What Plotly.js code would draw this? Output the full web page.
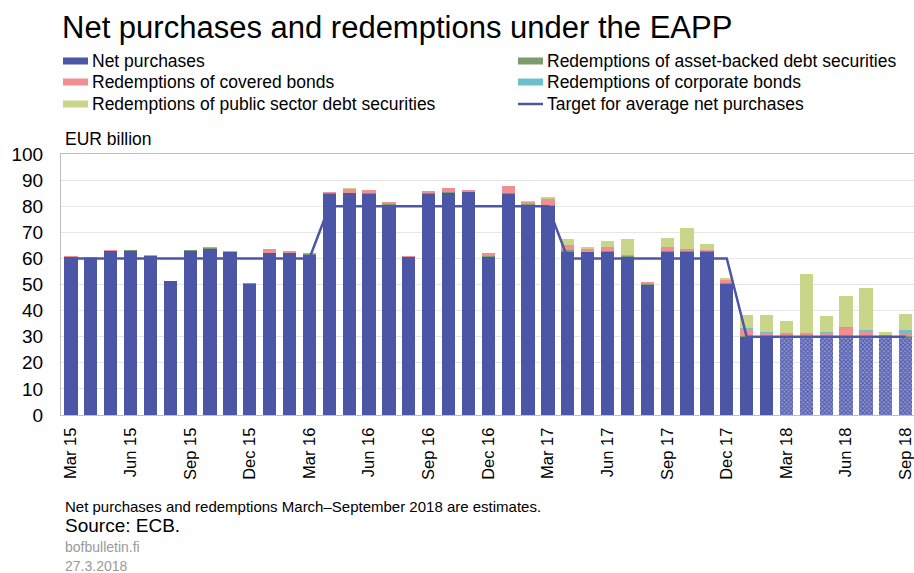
<!DOCTYPE html>
<html>
<head>
<meta charset="utf-8">
<script src="https://cdn.plot.ly/plotly-3.0.1.min.js"></script>
<style>
html,body{margin:0;padding:0;background:#fff;}
#chart{width:914px;height:573px;}
</style>
</head>
<body>
<div id="chart"></div>
<script>
const months = ["Mar 15","Apr 15","May 15","Jun 15","Jul 15","Aug 15","Sep 15","Oct 15","Nov 15","Dec 15",
  "Jan 16","Feb 16","Mar 16","Apr 16","May 16","Jun 16","Jul 16","Aug 16","Sep 16","Oct 16","Nov 16","Dec 16",
  "Jan 17","Feb 17","Mar 17","Apr 17","May 17","Jun 17","Jul 17","Aug 17","Sep 17","Oct 17","Nov 17","Dec 17",
  "Jan 18","Feb 18","Mar 18","Apr 18","May 18","Jun 18","Jul 18","Aug 18","Sep 18"];

const netPurchases = [60.6,60.1,62.7,63.0,61.0,51.2,63.0,63.6,62.4,50.2,
  61.9,61.9,61.2,84.8,84.9,84.7,80.4,60.4,84.7,85.2,85.3,60.6,
  84.7,80.4,80.2,62.5,62.3,62.3,60.6,50.0,62.3,62.3,62.3,50.2,
  30,30,30,30,30,30,30,30,30];

const redemptionsABS = [0.1,0.1,0.1,0.1,0.1,0.1,0.1,0.3,0.1,0.2,
  0.2,0.2,0.3,0.3,0.3,0.3,0.3,0.2,0.3,0.2,0.2,0.3,
  0.4,0.3,0.3,0.6,0.3,0.4,0.2,0.2,0.5,0.5,0.5,0.4,
  0.2,0.1,0.1,0.1,0.1,0.1,0.1,0.1,0.2];

const redemptionsCovered = [0.3,0.2,0.3,0.3,0.2,0.2,0.3,0.3,0.3,0.3,
  1.6,0.6,0.5,0.5,1.5,1.2,0.9,0.4,0.8,1.4,0.7,1.0,
  2.6,1.0,2.2,2.0,0.9,1.5,0.6,0.6,1.5,0.6,0.4,1.1,
  2.9,1.5,1.2,1.3,1.2,3.3,2.2,0.6,1.4];

const redemptionsCorporate = [0,0,0,0,0,0,0,0,0,0,
  0,0,0,0,0,0,0,0,0,0,0,0,
  0.2,0,0,0,0,0,0,0,0,0.1,0.1,0.1,
  0.1,0.1,0.1,0.1,0.5,0.3,0.2,0.1,0.8];

const redemptionsPublic = [0,0,0,0,0,0,0,0,0,0,
  0,0,0,0,0.1,0.1,0,0,0,0,0,0,
  0,0.2,0.7,2.3,1.0,2.3,5.9,0.2,3.6,8.3,2.3,0.6,
  5.3,6.8,4.6,22.6,6.3,12.0,16.0,1.0,6.3];

const targetNet = [60,60,60,60,60,60,60,60,60,60,60,60,60,
  80,80,80,80,80,80,80,80,80,80,80,80,
  60,60,60,60,60,60,60,60,60,
  30,30,30,30,30,30,30,30,30];

const firstEstimateMonth = "Mar 18";
const tickLabels = ["Mar 15","Jun 15","Sep 15","Dec 15","Mar 16","Jun 16","Sep 16","Dec 16",
  "Mar 17","Jun 17","Sep 17","Dec 17","Mar 18","Jun 18","Sep 18"];

const seriesNames = ["Net purchases","Redemptions of asset-backed debt securities","Redemptions of covered bonds",
  "Redemptions of corporate bonds","Redemptions of public sector debt securities","Target for average net purchases"];
const seriesColors = ["#4c56a6","#7e9b6f","#f08e92","#6cc0cc","#c9d689","#4c56a6"];

const FONT = "Liberation Sans, Arial, Helvetica, sans-serif";
const estIdx = months.indexOf(firstEstimateMonth);
const hatch = months.map((m, i) => i >= estIdx ? "x" : "");

const barSeries = [netPurchases, redemptionsABS, redemptionsCovered, redemptionsCorporate, redemptionsPublic];
const traces = barSeries.map((vals, k) => {
  const t = {type:"bar", name:seriesNames[k], x:months, y:vals,
    marker:{color:seriesColors[k], line:{width:0}}};
  if (k === 0) t.marker.pattern = {shape:hatch, fgcolor:"#4c56a6", bgcolor:"#9095d2", size:3, solidity:0.5};
  return t;
});
traces.push({type:"scatter", mode:"lines", name:seriesNames[5], x:months, y:targetNet,
  line:{color:seriesColors[5], width:2.5}});

const plotW = 914 - 61;
const plotH = 573 - 154 - 158;
const py = (px) => (573 - 158 - px) / plotH;
const pxX = (px) => (px - 61) / plotW;

// custom two-column legend (row-major order)
const shapes = [];
const annotations = [];
const legRows = [61, 82, 104];
const legCols = [{sw:63, tx:90}, {sw:518, tx:545}];
seriesNames.forEach((nm, k) => {
  const row = Math.floor(k / 2), col = k % 2;
  const yc = legRows[row], c = legCols[col];
  if (k < 5) {
    shapes.push({type:"rect", xref:"paper", yref:"paper", x0:pxX(c.sw), x1:pxX(c.sw + 25),
      y0:py(yc + 3.5), y1:py(yc - 3.5), fillcolor:seriesColors[k], line:{width:0}});
  } else {
    shapes.push({type:"line", xref:"paper", yref:"paper", x0:pxX(c.sw), x1:pxX(c.sw + 25),
      y0:py(yc), y1:py(yc), line:{color:seriesColors[k], width:2.5}});
  }
  annotations.push({text:nm, xref:"paper", yref:"paper", x:pxX(c.tx), y:py(yc), xanchor:"left", yanchor:"middle",
    showarrow:false, font:{size:17.5, family:FONT, color:"#000"}});
});

annotations.push(
  {text:"EUR billion", xref:"paper", yref:"paper", x:pxX(63), y:py(139), xanchor:"left", yanchor:"middle",
   showarrow:false, font:{size:17.5, family:FONT, color:"#000"}},
  {text:"Net purchases and redemptions March\u2013September 2018 are estimates.", xref:"paper", yref:"paper",
   x:pxX(63), y:py(507), xanchor:"left", yanchor:"middle", showarrow:false, font:{size:15, family:FONT, color:"#000"}},
  {text:"Source: ECB.", xref:"paper", yref:"paper", x:pxX(63), y:py(525), xanchor:"left", yanchor:"middle",
   showarrow:false, font:{size:19, family:FONT, color:"#000"}},
  {text:"bofbulletin.fi", xref:"paper", yref:"paper", x:pxX(63), y:py(547), xanchor:"left", yanchor:"middle",
   showarrow:false, font:{size:14, family:FONT, color:"#9a9a9a"}},
  {text:"27.3.2018", xref:"paper", yref:"paper", x:pxX(63), y:py(566), xanchor:"left", yanchor:"middle",
   showarrow:false, font:{size:14, family:FONT, color:"#9a9a9a"}}
);

const layout = {
  width:914, height:573,
  margin:{l:61, r:0, t:154, b:158, pad:0},
  paper_bgcolor:"#ffffff", plot_bgcolor:"#ffffff",
  font:{family:FONT, color:"#000000", size:17},
  title:{text:"Net purchases and redemptions under the EAPP", font:{family:FONT, size:31, color:"#000"},
    xref:"container", x:62/914, xanchor:"left", yref:"container", y:1-27/573, yanchor:"middle"},
  barmode:"stack", bargap:0.33,
  showlegend:false,
  xaxis:{type:"category", categoryorder:"array", categoryarray:months,
    range:[-0.5, 42.42], tickmode:"array", tickvals:tickLabels, ticktext:tickLabels,
    tickangle:-90, tickfont:{size:16.5, family:FONT}, ticks:"", ticklabelstandoff:5,
    showline:true, linecolor:"#bfbfbf", linewidth:1, mirror:true, showgrid:false, fixedrange:true},
  yaxis:{range:[0,100], dtick:10, tick0:0, tickfont:{size:19, family:FONT}, ticks:"",
    ticklabelstandoff:13,
    showgrid:true, gridcolor:"#e6e6e6", gridwidth:1, zeroline:false,
    showline:true, linecolor:"#bfbfbf", linewidth:1, mirror:true, fixedrange:true},
  shapes:shapes,
  annotations:annotations
};

Plotly.newPlot("chart", traces, layout, {displayModeBar:false, staticPlot:true});
</script>
</body>
</html>
